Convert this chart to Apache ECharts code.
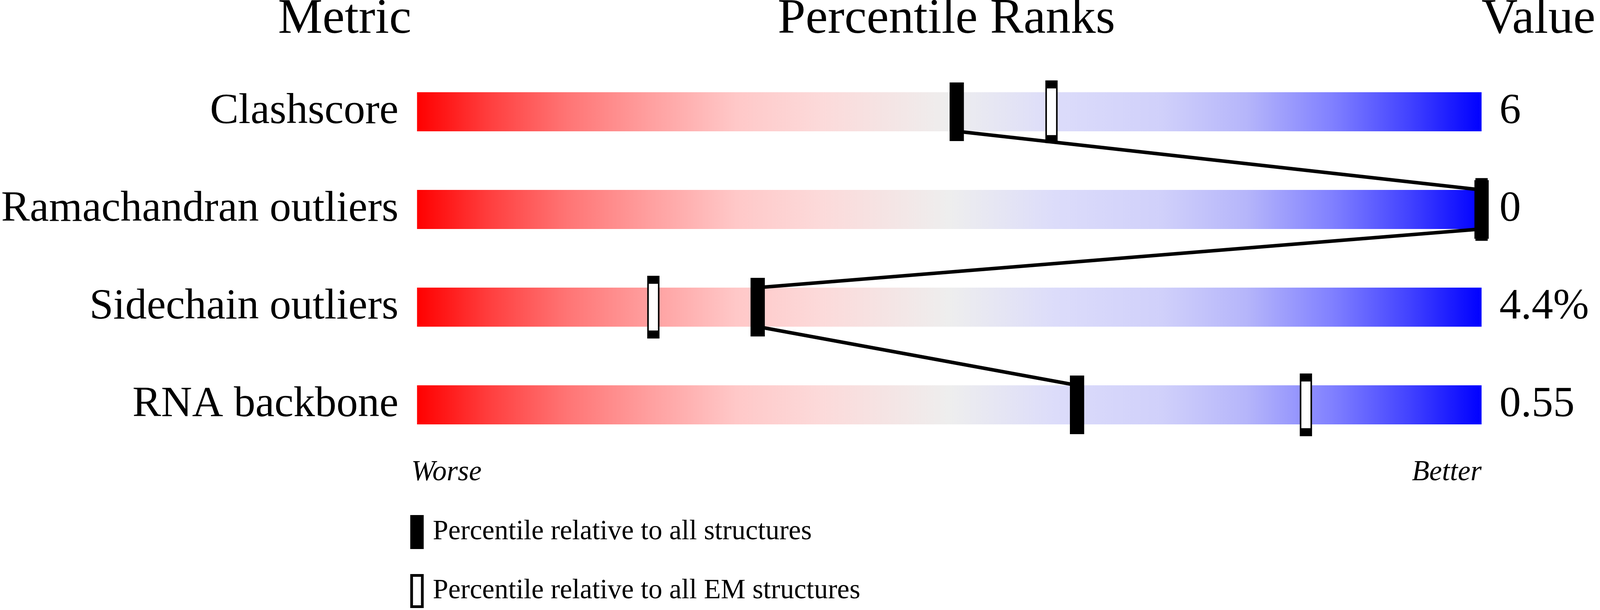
<!DOCTYPE html>
<html>
<head>
<meta charset="utf-8">
<script src="https://cdn.jsdelivr.net/npm/echarts@6/dist/echarts.min.js"></script>
<style>
html,body{margin:0;padding:0;background:#fff;overflow:hidden;}
#chart{width:100vw;height:100vh;}
</style>
</head>
<body>
<div id="chart"></div>
<script>
// ---- data ----
var metrics = ['Clashscore', 'Ramachandran outliers', 'Sidechain outliers', 'RNA backbone'];
var metricValues = ['6', '0', '4.4%', '0.55'];
var pctAll = [50.7, 100, 32, 62];
var pctEM = [59.6, 100, 22.2, 83.5];
var scaleFull = [100, 100, 100, 100];
var headers = ['Metric', 'Percentile Ranks', 'Value'];
var endLabels = ['Worse', 'Better'];
var legendNames = ['Percentile relative to all structures', 'Percentile relative to all EM structures'];

var FONT = "'Liberation Serif', 'Times New Roman', serif";

var el = document.getElementById('chart');
var chart = echarts.init(el, null, {renderer: 'canvas'});
var W = chart.getWidth(), H = chart.getHeight();
var sx = W / 4485, sy = H / 1561, s = Math.min(sx, sy);
function X(v) { return v * sx; }
function Y(v) { return v * sy; }
function F(v) { return Math.round(v * s); }

var connectors = [];
for (var i = 0; i < pctAll.length - 1; i++) {
  connectors.push([pctAll[i], i, pctAll[i + 1], i + 1]);
}

var gradient = new echarts.graphic.LinearGradient(0, 0, 1, 0, [
  {offset: 0.00, color: 'rgb(255,0,0)'},
  {offset: 0.07, color: 'rgb(255,64,64)'},
  {offset: 0.14, color: 'rgb(255,116,116)'},
  {offset: 0.22, color: 'rgb(255,160,160)'},
  {offset: 0.30, color: 'rgb(255,200,200)'},
  {offset: 0.38, color: 'rgb(252,218,218)'},
  {offset: 0.50, color: 'rgb(238,238,238)'},
  {offset: 0.60, color: 'rgb(220,220,250)'},
  {offset: 0.70, color: 'rgb(208,208,250)'},
  {offset: 0.78, color: 'rgb(181,181,250)'},
  {offset: 0.86, color: 'rgb(128,128,255)'},
  {offset: 0.93, color: 'rgb(68,68,255)'},
  {offset: 1.00, color: 'rgb(0,0,255)'}
]);

var option = {
  animation: false,
  backgroundColor: '#ffffff',
  grid: {left: X(1153), right: X(332), top: Y(161), height: Y(1000), containLabel: false},
  xAxis: {type: 'value', min: 0, max: 100, show: false},
  yAxis: [
    {
      type: 'category', data: metrics, inverse: true,
      axisLine: {show: false}, axisTick: {show: false}, splitLine: {show: false},
      axisLabel: {interval: 0, margin: X(52), fontFamily: FONT, fontSize: F(120), color: '#000', padding: [F(20), 0, 0, 0]}
    },
    {
      type: 'category', data: metricValues, inverse: true, position: 'right',
      axisLine: {show: false}, axisTick: {show: false}, splitLine: {show: false},
      axisLabel: {interval: 0, margin: X(50), fontFamily: FONT, fontSize: F(120), color: '#000', padding: [F(20), 0, 0, 0]}
    }
  ],
  legend: {
    orient: 'vertical', left: X(1150), top: Y(1318), height: Y(400), padding: 0,
    itemWidth: X(30), itemHeight: Y(80), itemGap: Y(64),
    textStyle: {fontFamily: FONT, fontSize: F(78), color: '#000', padding: [Y(26), 0, 0, X(24)]},
    data: [
      {name: legendNames[0], icon: 'rect', itemStyle: {color: '#000', borderColor: '#000', borderWidth: F(8)}},
      {name: legendNames[1], icon: 'rect', itemStyle: {color: '#fff', borderColor: '#000', borderWidth: F(8)}}
    ],
    selectedMode: false
  },
  graphic: [
    {type: 'text', x: X(1153), y: Y(50), style: {text: headers[0], font: F(140) + 'px ' + FONT, fill: '#000', align: 'right', verticalAlign: 'middle'}},
    {type: 'text', x: X(2653), y: Y(50), style: {text: headers[1], font: F(140) + 'px ' + FONT, fill: '#000', align: 'center', verticalAlign: 'middle'}},
    {type: 'text', x: X(4153), y: Y(50), style: {text: headers[2], font: F(140) + 'px ' + FONT, fill: '#000', align: 'left', verticalAlign: 'middle'}},
    {type: 'text', x: X(1153), y: Y(1210), style: {text: endLabels[0], font: 'italic ' + F(80) + 'px ' + FONT, fill: '#000', align: 'left', verticalAlign: 'middle'}},
    {type: 'text', x: X(4153), y: Y(1210), style: {text: endLabels[1], font: 'italic ' + F(80) + 'px ' + FONT, fill: '#000', align: 'right', verticalAlign: 'middle'}}
  ],
  series: [
    {
      type: 'bar', yAxisIndex: 0, data: scaleFull, barWidth: '40%', silent: true,
      itemStyle: {color: gradient}, z: 1
    },
    {
      type: 'custom', yAxisIndex: 0, data: connectors, silent: true, z: 2,
      encode: {x: [0, 2], y: [1, 3]},
      renderItem: function (params, api) {
        var p0 = api.coord([api.value(0), api.value(1)]);
        var p1 = api.coord([api.value(2), api.value(3)]);
        var half = api.size([0, 1])[1] * 0.2;
        return {
          type: 'line',
          shape: {x1: p0[0], y1: p0[1] + half, x2: p1[0], y2: p1[1] - half},
          style: {stroke: '#000', lineWidth: F(10)}
        };
      }
    },
    {
      name: legendNames[1], type: 'scatter', yAxisIndex: 0, z: 3, silent: true,
      symbol: 'rect', symbolSize: [X(30), Y(140)],
      itemStyle: {color: '#fff', borderColor: '#000', borderWidth: F(10), opacity: 1},
      data: pctEM.map(function (v, i) { return [v, i]; })
    },
    {
      name: legendNames[0], type: 'scatter', yAxisIndex: 0, z: 4, silent: true,
      symbol: 'rect', symbolSize: [X(40), Y(150)],
      itemStyle: {color: '#000', opacity: 1},
      data: pctAll.map(function (v, i) { return [v, i]; })
    }
  ]
};
chart.setOption(option);
</script>
</body>
</html>
